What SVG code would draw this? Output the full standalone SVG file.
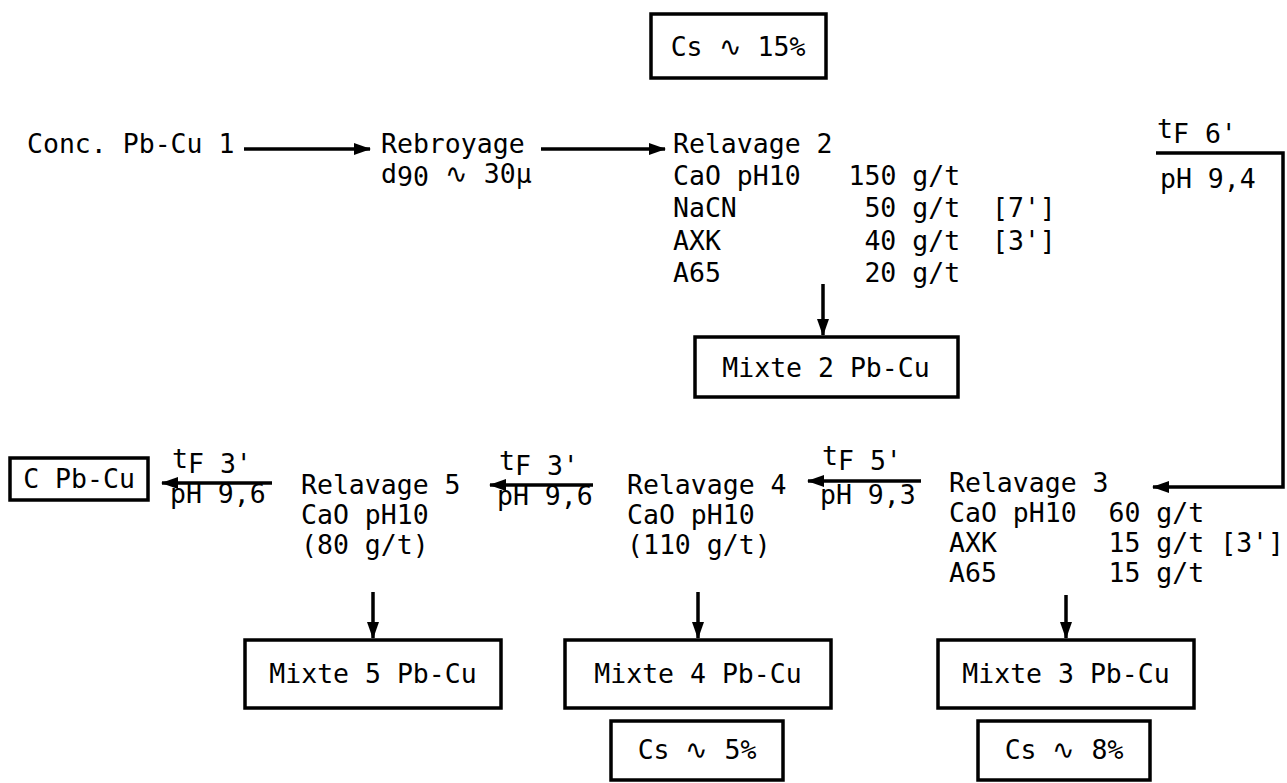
<svg xmlns="http://www.w3.org/2000/svg" width="1287" height="783" viewBox="0 0 1287 783">
<defs>
<style>
text{font-family:"DejaVu Sans Mono","Liberation Mono",monospace;font-size:26.5px;fill:#000}
.c{text-anchor:middle}
.box{fill:none;stroke:#000;stroke-width:3.5}
.ar{fill:none;stroke:#000;stroke-width:3.5;marker-end:url(#ah)}
</style>
<marker id="ah" markerUnits="userSpaceOnUse" markerWidth="18" markerHeight="12" refX="16" refY="6" orient="auto">
<path d="M0,0 L17,6 L0,12 Z" fill="#000"/>
</marker>
</defs>
<rect width="1287" height="783" fill="#fff"/>

<g id="cs15"><rect class="box" x="651" y="14" width="175" height="64"/><text class="c" x="738" y="56">Cs ∿ 15%</text></g>

<g id="conc"><text x="27" y="153">Conc. Pb-Cu 1</text></g>
<g id="rebroyage"><text x="381" y="153">Rebroyage</text><text x="381" y="183">d<tspan dy="3">90</tspan><tspan dy="-3"> ∿ 30µ</tspan></text></g>

<g id="relavage2">
<text x="673" y="153">Relavage 2</text>
<text x="673" y="185">CaO pH10</text><text x="848.5" y="185">150 g/t</text>
<text x="673" y="217">NaCN</text><text x="864.4" y="217">50 g/t</text><text x="992" y="217">[7']</text>
<text x="673" y="250">AXK</text><text x="864.4" y="250">40 g/t</text><text x="992" y="250">[3']</text>
<text x="673" y="282">A65</text><text x="864.4" y="282">20 g/t</text>
</g>

<g id="mixte2"><rect class="box" x="695" y="337" width="263" height="60"/><text class="c" x="826" y="377">Mixte 2 Pb-Cu</text></g>

<g id="relavage3">
<text x="949" y="492">Relavage 3</text>
<text x="949" y="522">CaO pH10</text><text x="1108.5" y="522">60 g/t</text>
<text x="949" y="552">AXK</text><text x="1108.5" y="552">15 g/t [3']</text>
<text x="949" y="582">A65</text><text x="1108.5" y="582">15 g/t</text>
</g>
<g id="relavage4">
<text x="627" y="494">Relavage 4</text>
<text x="627" y="524">CaO pH10</text>
<text x="627" y="554">(110 g/t)</text>
</g>
<g id="relavage5">
<text x="301" y="494">Relavage 5</text>
<text x="301" y="524">CaO pH10</text>
<text x="301" y="554">(80 g/t)</text>
</g>
<g id="cpbcu"><rect class="box" x="10" y="458" width="138" height="42"/><text class="c" x="79" y="488">C Pb-Cu</text></g>

<g id="mixte5"><rect class="box" x="245" y="640" width="256" height="68"/><text class="c" x="373" y="683">Mixte 5 Pb-Cu</text></g>
<g id="mixte4"><rect class="box" x="565" y="640" width="266" height="68"/><text class="c" x="698" y="683">Mixte 4 Pb-Cu</text></g>
<g id="mixte3"><rect class="box" x="938" y="640" width="256" height="68"/><text class="c" x="1066" y="683">Mixte 3 Pb-Cu</text></g>
<g id="cs5"><rect class="box" x="611" y="721" width="172" height="59"/><text class="c" x="697" y="759">Cs ∿ 5%</text></g>
<g id="cs8"><rect class="box" x="978" y="721" width="172" height="59"/><text class="c" x="1064" y="759">Cs ∿ 8%</text></g>

<g id="connectors">
<line class="ar" x1="244" y1="149" x2="370" y2="149"/>
<line class="ar" x1="541" y1="149" x2="665" y2="149"/>
<line class="ar" x1="823" y1="284" x2="823" y2="335"/>
<polyline class="ar" points="1156,153 1283,153 1283,487 1153,487"/>
<line class="ar" x1="921" y1="481" x2="808" y2="481"/>
<line class="ar" x1="593" y1="485" x2="490" y2="485"/>
<line class="ar" x1="272" y1="483" x2="162" y2="483"/>
<line class="ar" x1="373" y1="592" x2="373" y2="638"/>
<line class="ar" x1="698" y1="592" x2="698" y2="638"/>
<line class="ar" x1="1066" y1="595" x2="1066" y2="638"/>
</g>

<g id="labels">
<text x="1157" y="143"><tspan dy="-5">t</tspan><tspan dy="5">F 6'</tspan></text>
<text x="1160" y="188">pH 9,4</text>
<text x="822" y="470"><tspan dy="-5">t</tspan><tspan dy="5">F 5'</tspan></text>
<text x="820" y="504">pH 9,3</text>
<text x="499" y="475"><tspan dy="-5">t</tspan><tspan dy="5">F 3'</tspan></text>
<text x="497" y="505">pH 9,6</text>
<text x="172" y="473"><tspan dy="-5">t</tspan><tspan dy="5">F 3'</tspan></text>
<text x="170" y="503">pH 9,6</text>
</g>
</svg>
